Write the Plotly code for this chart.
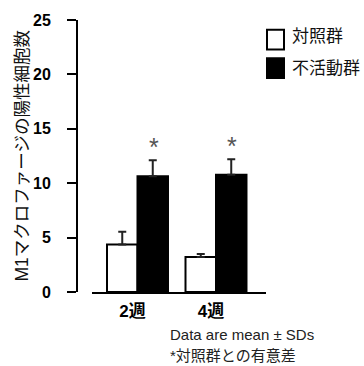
import plotly.graph_objects as go

categories = ["2週", "4週"]
control_mean = [4.36, 3.22]
control_sd = [1.17, 0.27]
inactive_mean = [10.63, 10.77]
inactive_sd = [1.49, 1.44]
y_ticks = [0, 5, 10, 15, 20, 25]
series_names = ["対照群", "不活動群"]
y_title = "M1マクロファージの陽性細胞数"
note1 = "Data are mean ± SDs"
note2 = "*対照群との有意差"

FONT = "Liberation Sans, Arial, Noto Sans CJK JP, sans-serif"
W, H = 364, 366
L, R, T, B = 77, 266, 15, 292


def px(x):
    return (x - L) / (R - L)


def py(y):
    return (B - y) / (B - T)


fig = go.Figure()
fig.add_trace(go.Bar(
    x=categories, y=control_mean, name=series_names[0],
    marker=dict(color="white", line=dict(color="black", width=2)),
    error_y=dict(type="data", array=control_sd, arrayminus=[0, 0], symmetric=False,
                 color="#222", thickness=2, width=4),
))
fig.add_trace(go.Bar(
    x=categories, y=inactive_mean, name=series_names[1],
    marker=dict(color="black", line=dict(color="black", width=2)),
    error_y=dict(type="data", array=inactive_sd, arrayminus=[0, 0], symmetric=False,
                 color="#222", thickness=2, width=4),
))

ann = []
# significance asterisks above inactive bars
for c, m, s in zip(categories, inactive_mean, inactive_sd):
    ann.append(dict(x=c, y=m + s, xref="x", yref="y", text="*", showarrow=False,
                    xshift=16, yshift=-3, font=dict(size=25, color="#555", family=FONT),
                    xanchor="center", yanchor="bottom"))
# y title
ann.append(dict(x=px(22), y=py(154), xref="paper", yref="paper", text=y_title,
                textangle=-90, showarrow=False, font=dict(size=17.5, color="#111", family=FONT),
                xanchor="center", yanchor="middle"))
# legend text
ann.append(dict(x=px(290), y=py(32), xref="paper", yref="paper", text=series_names[0],
                showarrow=False, font=dict(size=17, color="#111", family=FONT),
                xanchor="left", yanchor="middle"))
ann.append(dict(x=px(290), y=py(64), xref="paper", yref="paper", text=series_names[1],
                showarrow=False, font=dict(size=17, color="#111", family=FONT),
                xanchor="left", yanchor="middle"))
# notes
ann.append(dict(x=px(168), y=py(335), xref="paper", yref="paper", text=note1,
                showarrow=False, font=dict(size=15, color="#222", family=FONT),
                xanchor="left", yanchor="middle"))
ann.append(dict(x=px(168), y=py(357), xref="paper", yref="paper", text=note2,
                showarrow=False, font=dict(size=15, color="#222", family=FONT),
                xanchor="left", yanchor="middle"))

shapes = [
    dict(type="rect", xref="paper", yref="paper", x0=px(267), x1=px(284), y0=py(45), y1=py(25),
         fillcolor="white", line=dict(color="black", width=2)),
    dict(type="rect", xref="paper", yref="paper", x0=px(267), x1=px(284), y0=py(74), y1=py(54),
         fillcolor="black", line=dict(color="black", width=2)),
]

fig.update_layout(
    width=W, height=H,
    margin=dict(l=L, r=W - R, t=T, b=H - B, pad=0),
    paper_bgcolor="white", plot_bgcolor="white",
    barmode="group", bargap=0.223, bargroupgap=0,
    showlegend=False,
    font=dict(family=FONT, color="black"),
    annotations=ann, shapes=shapes,
    xaxis=dict(domain=[px(92), 1], range=[-0.5796, 1.637], showline=True, linecolor="black",
               linewidth=2, ticks="", showgrid=False, zeroline=False,
               tickfont=dict(size=17, family=FONT, color="black", weight="bold"),
               ticklabelshift=-5, ticklabelstandoff=3),
    yaxis=dict(anchor="free", position=0, range=[0, 25], tickvals=y_ticks,
               showline=True, linecolor="black", linewidth=2, ticks="outside", ticklen=9,
               tickwidth=2, tickcolor="black", showgrid=False, zeroline=False,
               tickfont=dict(size=16, family=FONT, color="black", weight="bold"),
               ticklabelstandoff=13),
)

fig.write_html("out.html")
